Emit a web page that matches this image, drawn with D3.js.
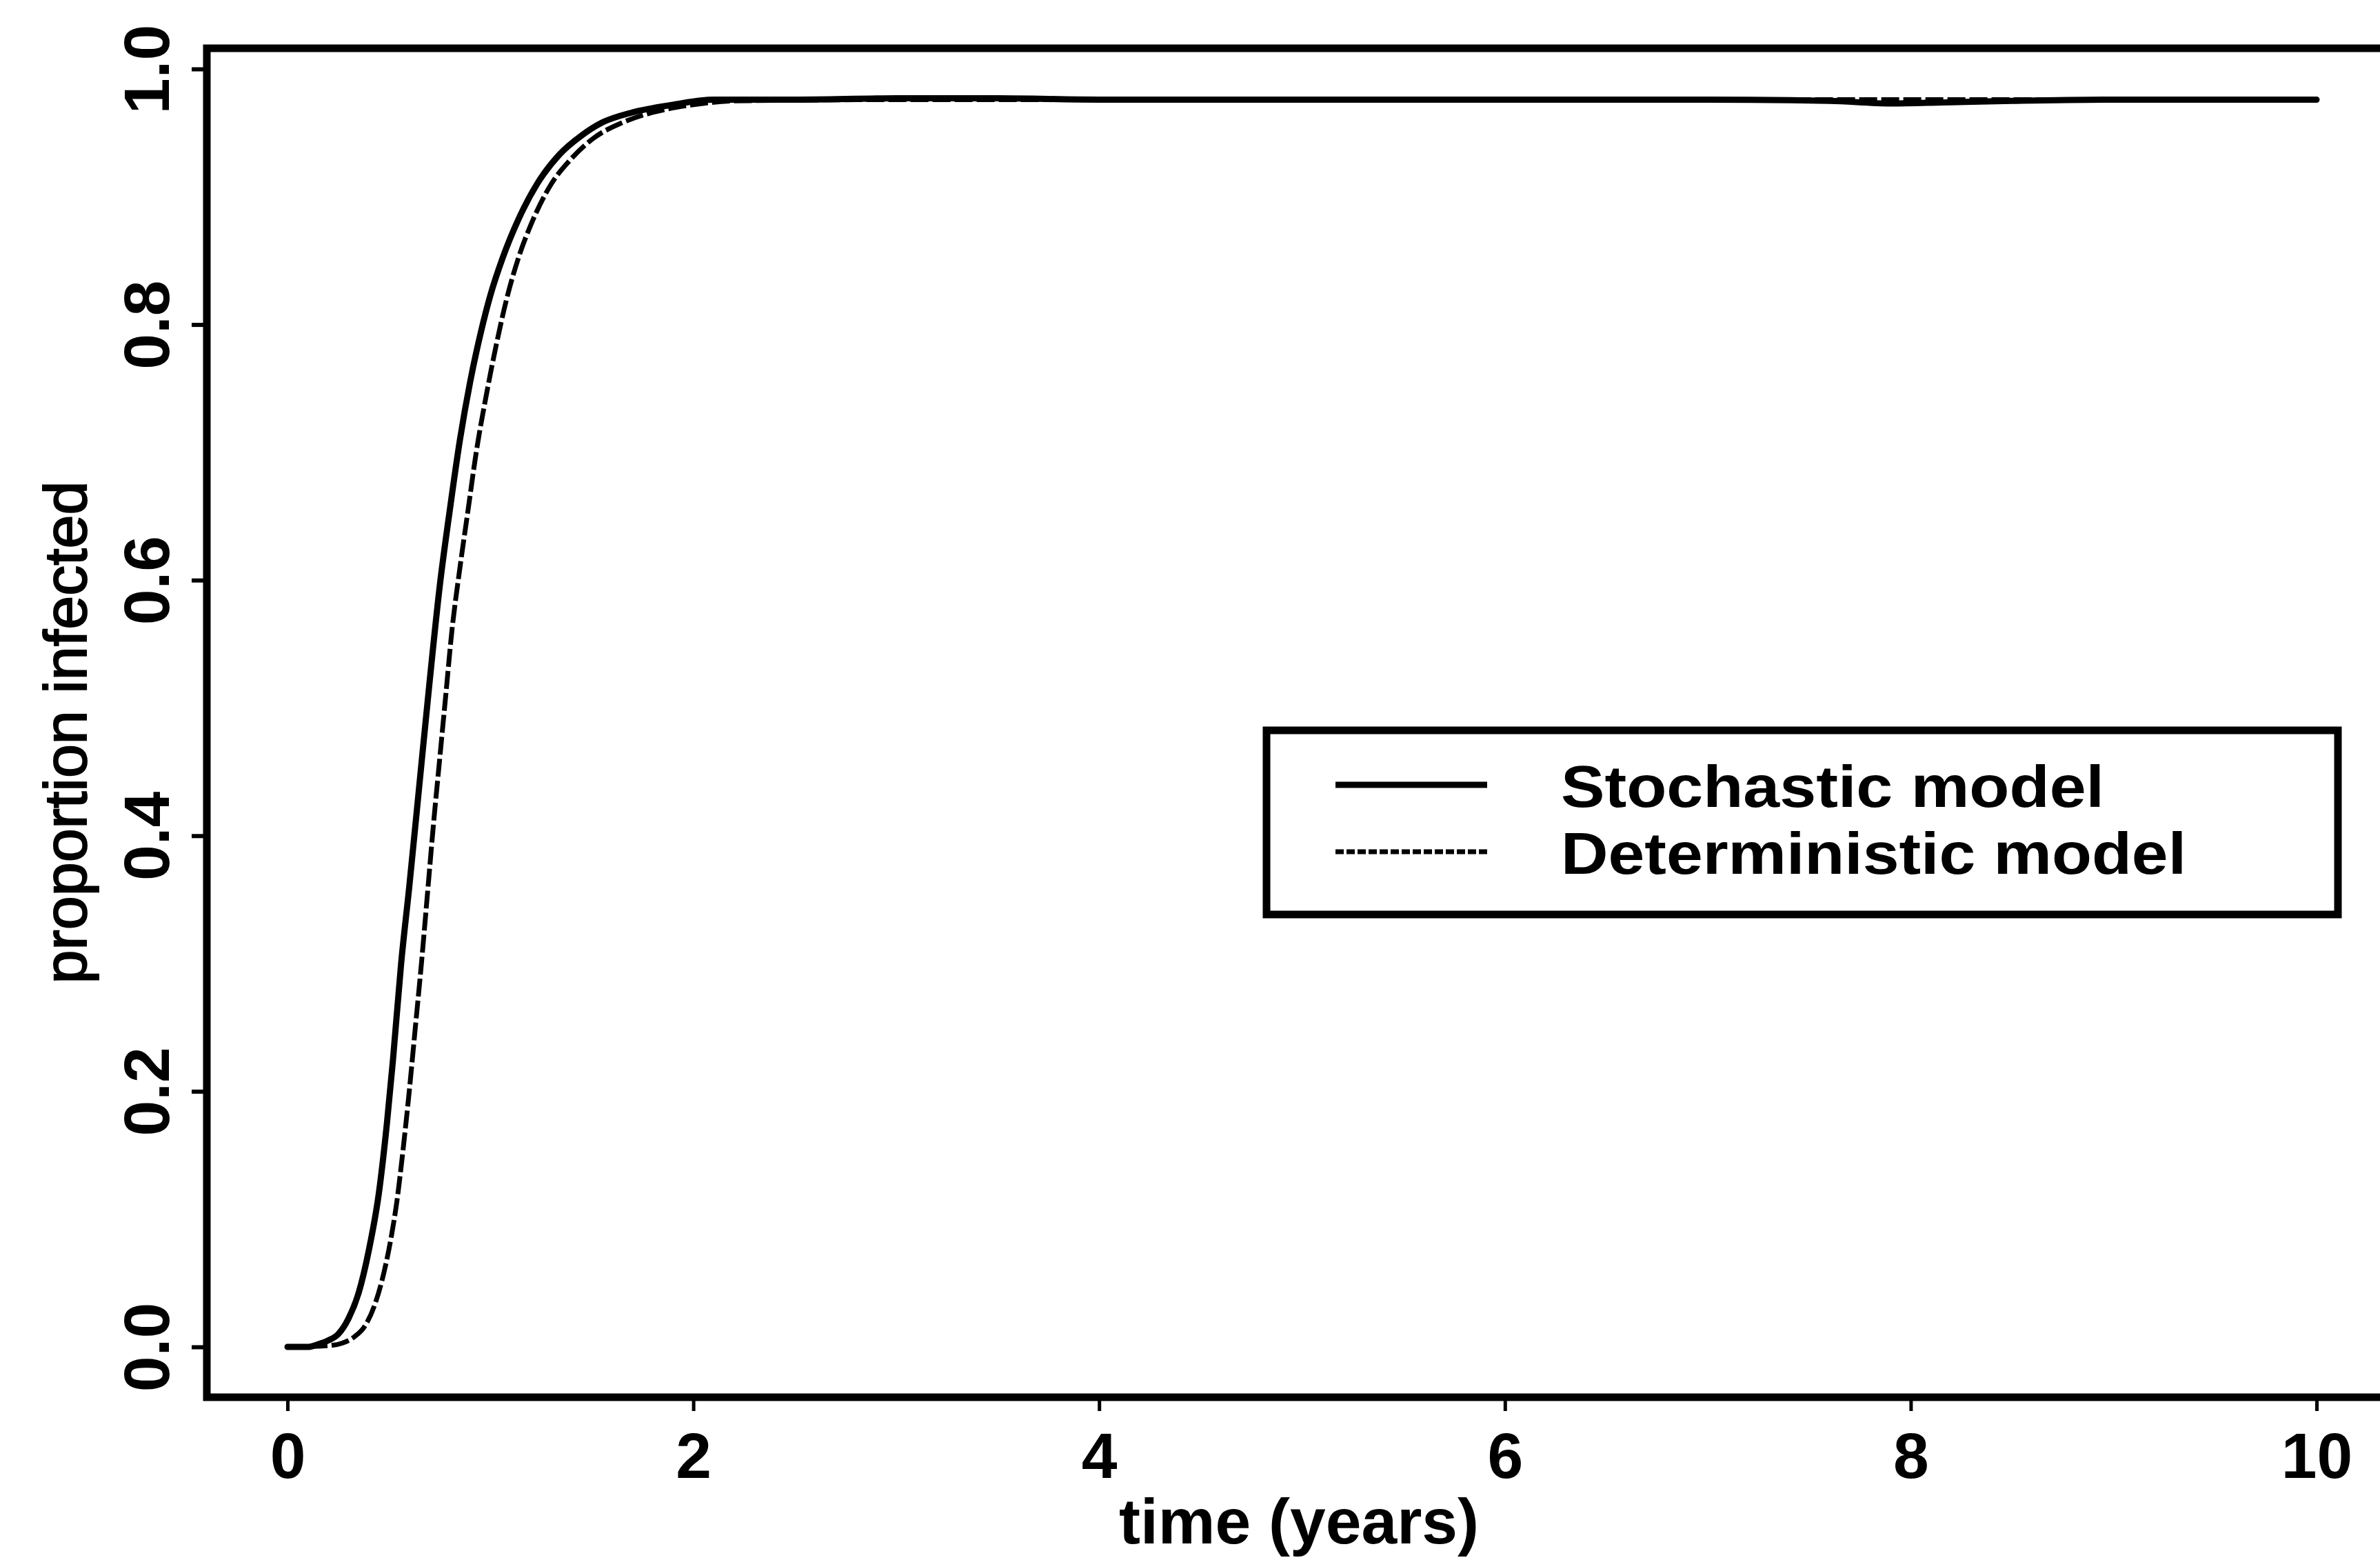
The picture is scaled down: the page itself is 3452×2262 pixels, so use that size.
<!DOCTYPE html>
<head>
  <meta charset="utf-8">
  <script src="https://d3js.org/d3.v7.min.js"></script>
  <style>
    body { margin: 0; background: #fff; }
    svg { display: block; }
    .tick-lab { font-family: 'Liberation Sans', Arial, sans-serif; font-size: 93px; font-weight: bold; fill: #000; }
    .ax-title { font-family: 'Liberation Sans', Arial, sans-serif; fill: #000; }
    .leg-text { font-family: 'Liberation Sans', Arial, sans-serif; font-size: 86px; font-weight: bold; fill: #000; }
  </style>
</head>
<body>
  <div id="chart"></div>
  <script>
    // values
    var xTicks = [0, 2, 4, 6, 8, 10];
    var yTicks = [0, 0.2, 0.4, 0.6, 0.8, 1.0];
    var yTickLabels = ["0.0", "0.2", "0.4", "0.6", "0.8", "1.0"];

    var stochT = [0, 0.10, 0.15, 0.20, 0.25, 0.30, 0.35, 0.40, 0.45, 0.49, 0.52, 0.56, 0.60, 0.65, 0.70, 0.75,
      0.80, 0.85, 0.90, 0.95, 1.00, 1.06, 1.14, 1.23, 1.34, 1.45, 1.55, 1.70, 1.90, 2.10, 2.5, 3.0, 3.5, 4.0,
      5.0, 6.0, 7.0, 7.6, 7.9, 8.2, 8.5, 9.0, 9.5, 10.0];
    var stochV = [0, 0, 0.002, 0.005, 0.010, 0.022, 0.042, 0.075, 0.12, 0.175, 0.225, 0.30, 0.36, 0.44, 0.52, 0.595,
      0.655, 0.71, 0.755, 0.792, 0.823, 0.852, 0.883, 0.910, 0.933, 0.948, 0.958, 0.966, 0.972, 0.976, 0.976, 0.977, 0.977, 0.976,
      0.976, 0.976, 0.976, 0.975, 0.973, 0.974, 0.975, 0.976, 0.976, 0.976];

    var determT = [0, 0.20, 0.27, 0.33, 0.38, 0.43, 0.475, 0.51, 0.54, 0.57, 0.60, 0.63, 0.66, 0.69, 0.72, 0.75,
      0.78, 0.81, 0.85, 0.89, 0.93, 0.98, 1.03, 1.08, 1.14, 1.21, 1.30, 1.40, 1.51, 1.65, 1.80, 2.00, 2.20,
      3, 4, 5, 6, 7, 8, 9, 10];
    var determV = [0, 0.001, 0.003, 0.008, 0.016, 0.033, 0.058, 0.085, 0.115, 0.155, 0.20, 0.25, 0.30, 0.355, 0.41, 0.46,
      0.51, 0.56, 0.61, 0.655, 0.70, 0.745, 0.785, 0.82, 0.853, 0.882, 0.910, 0.930, 0.946, 0.958, 0.966, 0.972, 0.975,
      0.976, 0.976, 0.976, 0.976, 0.976, 0.976, 0.976, 0.976];

    var legendLabels = ["Stochastic model", "Deterministic model"];
    var legendWidths = [788, 907];

    var w = 3452, h = 2262;
    var box = { left: 300, top: 70, right: 3475, bottom: 2026 };

    var x = d3.scaleLinear().domain([0, 10]).range([417, 3360]);
    var y = d3.scaleLinear().domain([0, 1]).range([1953, 100]);

    var svg = d3.select("#chart").append("svg")
      .attr("width", w)
      .attr("height", h);

    svg.append("rect").attr("width", w).attr("height", h).attr("fill", "#fff");

    // x axis
    var xAxis = svg.append("g")
      .attr("transform", "translate(0," + box.bottom + ")")
      .call(d3.axisBottom(x).tickValues(xTicks).tickSize(20).tickFormat(d3.format("d")));
    xAxis.select(".domain").remove();
    xAxis.selectAll("line").attr("stroke", "#000").attr("stroke-width", 5);
    xAxis.selectAll("text")
      .attr("class", "tick-lab")
      .attr("y", 117).attr("dy", 0)
      .attr("font-size", null).attr("font-family", null);

    // y axis
    var yAxis = svg.append("g")
      .attr("transform", "translate(" + box.left + ",0)")
      .call(d3.axisLeft(y).tickValues(yTicks).tickSize(22).tickFormat(function (d, i) { return yTickLabels[i]; }));
    yAxis.select(".domain").remove();
    yAxis.selectAll("line").attr("stroke", "#000").attr("stroke-width", 6);
    yAxis.selectAll("text")
      .attr("class", "tick-lab")
      .attr("x", 0).attr("y", 0).attr("dy", "0.36em")
      .attr("text-anchor", "middle")
      .attr("font-size", null).attr("font-family", null)
      .attr("transform", "translate(-88,0) rotate(-90)");

    // plot frame
    svg.append("rect")
      .attr("x", box.left).attr("y", box.top)
      .attr("width", box.right - box.left).attr("height", box.bottom - box.top)
      .attr("fill", "none").attr("stroke", "#000").attr("stroke-width", 11);

    // curves
    var line = d3.line()
      .x(function (d) { return x(d[0]); })
      .y(function (d) { return y(d[1]); })
      .curve(d3.curveMonotoneX);

    svg.append("path")
      .datum(determT.map(function (t, i) { return [t, determV[i]]; }))
      .attr("d", line)
      .attr("fill", "none").attr("stroke", "#000")
      .attr("stroke-width", 7).attr("stroke-dasharray", "26,6");

    svg.append("path")
      .datum(stochT.map(function (t, i) { return [t, stochV[i]]; }))
      .attr("d", line)
      .attr("fill", "none").attr("stroke", "#000")
      .attr("stroke-width", 9).attr("stroke-linecap", "round");

    // axis titles
    svg.append("text")
      .attr("class", "ax-title")
      .attr("x", 1884).attr("y", 2238)
      .attr("text-anchor", "middle")
      .attr("font-size", 93).attr("font-weight", "bold")
      .text("time (years)");

    svg.append("text")
      .attr("class", "ax-title")
      .attr("transform", "translate(125,1062) rotate(-90)")
      .attr("text-anchor", "middle")
      .attr("font-size", 88)
      .attr("stroke", "#000").attr("stroke-width", 2)
      .text("proportion infected");

    // legend
    var leg = svg.append("g");
    leg.append("rect")
      .attr("x", 1837).attr("y", 1059)
      .attr("width", 1554).attr("height", 267)
      .attr("fill", "#fff").attr("stroke", "#000").attr("stroke-width", 11);

    var legRows = leg.selectAll(".row")
      .data(legendLabels)
      .enter().append("g")
      .attr("transform", function (d, i) { return "translate(0," + (1138 + i * 97) + ")"; });

    legRows.append("line")
      .attr("x1", 1937).attr("x2", 2157)
      .attr("stroke", "#000")
      .attr("stroke-width", function (d, i) { return i === 0 ? 9 : 7; })
      .attr("stroke-dasharray", function (d, i) { return i === 0 ? null : "12,4"; });

    legRows.append("text")
      .attr("class", "leg-text")
      .attr("x", 2264).attr("y", 32)
      .attr("textLength", function (d, i) { return legendWidths[i]; })
      .attr("lengthAdjust", "spacingAndGlyphs")
      .text(function (d) { return d; });
  </script>
</body>
</html>
